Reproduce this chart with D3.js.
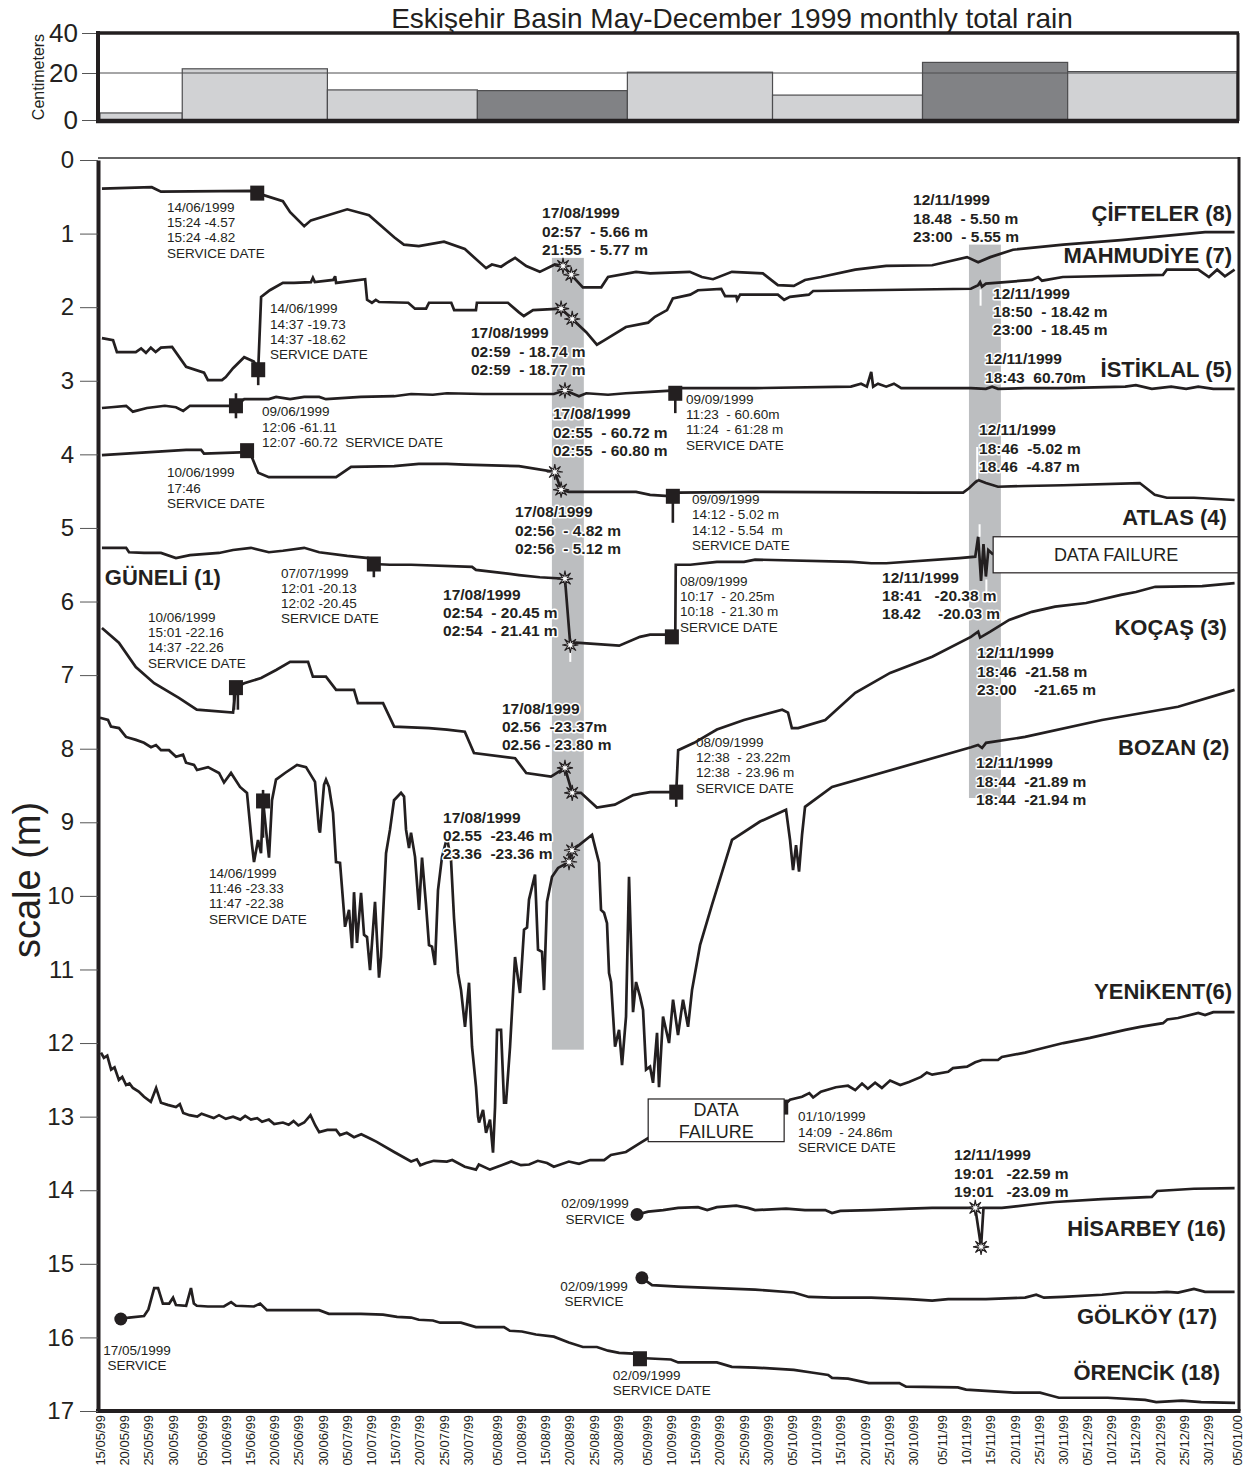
<!DOCTYPE html>
<html>
<head>
<meta charset="utf-8">
<script src="https://cdnjs.cloudflare.com/ajax/libs/d3/7.8.5/d3.min.js"></script>
<style>
  body { margin: 0; background: #fff; }
  text { font-family: "Liberation Sans", Arial, Helvetica, sans-serif; fill: #231f20; }
</style>
</head>
<body>
<svg width="1244" height="1467"></svg>
<script>
// monthly rain (cm), May..December 1999
const months = ['May', 'June', 'July', 'August', 'September', 'October', 'November', 'December'];
const monthBounds = ['15/05/99', '01/06/99', '01/07/99', '01/08/99', '01/09/99', '01/10/99', '01/11/99', '01/12/99', '05/01/00'];
const rain = [3.0, 22.1, 12.8, 12.5, 20.4, 10.6, 25.3, 20.7];
const quakeMonths = ['August', 'November'];

const dayLabels = ['15/05/99','20/05/99','25/05/99','30/05/99','05/06/99','10/06/99','15/06/99','20/06/99','25/06/99','30/06/99',
  '05/07/99','10/07/99','15/07/99','20/07/99','25/07/99','30/07/99','05/08/99','10/08/99','15/08/99','20/08/99','25/08/99','30/08/99',
  '05/09/99','10/09/99','15/09/99','20/09/99','25/09/99','30/09/99','05/10/99','10/10/99','15/10/99','20/10/99','25/10/99','30/10/99',
  '05/11/99','10/11/99','15/11/99','20/11/99','25/11/99','30/11/99','05/12/99','10/12/99','15/12/99','20/12/99','25/12/99','30/12/99','05/01/00'];
const depthTicks = d3.range(0, 18);
const rainTicks = [0, 20, 40];

// water level series: [days since 15/05/1999, depth m]
const cifteler = [[0.4,0.39],[10.7,0.37],[12.6,0.43],[31.2,0.42],[32.5,0.45],[37.8,0.56],[39.3,0.71],[42.2,0.90],[43.6,0.82],[51.1,0.67],[55.6,0.75],[60.8,1.05],[62.8,1.15],[65.9,1.17],[71.1,1.11],[75.4,1.21],[79.8,1.47],[81.0,1.42],[82.9,1.45],[84.0,1.40],[85.8,1.33],[88.1,1.44],[90.9,1.52],[94.0,1.42],[95.7,1.44],[97.4,1.56],[99.8,1.73],[103.6,1.73],[105.0,1.59],[110.8,1.52],[113.7,1.54],[121.9,1.52],[124.4,1.59],[126.7,1.62],[130.6,1.52],[137.0,1.54],[140.1,1.70],[143.4,1.71],[145.7,1.63],[149.0,1.59],[156.1,1.49],[162.5,1.44],[172.0,1.43],[179.2,1.32],[181.5,1.39],[184.0,1.32],[188.7,1.22],[199.1,1.15],[211.0,1.09],[228.4,0.98],[234.5,0.98]];
const mahmudiye = [[0.4,2.42],[2.7,2.45],[3.5,2.61],[7.4,2.61],[8.5,2.56],[9.5,2.62],[10.5,2.55],[11.5,2.61],[12.6,2.55],[14.9,2.54],[17.8,2.81],[21.5,2.89],[22.3,2.99],[25.2,2.99],[26.0,2.95],[27.5,2.83],[29.8,2.68],[31.8,2.74],[32.7,2.85],[33.3,1.86],[35.1,1.77],[37.8,1.67],[40.1,1.67],[43.6,1.66],[44.0,1.60],[44.4,1.66],[48.2,1.63],[48.6,1.58],[48.8,1.67],[52.5,1.64],[54.8,1.62],[55.2,1.90],[56.2,1.94],[57.0,1.90],[57.7,1.93],[63.7,1.94],[65.1,2.02],[67.4,2.02],[68.0,1.94],[72.6,1.94],[73.2,2.04],[77.7,2.04],[77.9,1.94],[84.3,1.94],[86.6,2.07],[87.6,2.12],[89.5,2.04],[95.3,2.02],[97.6,2.16],[100.5,2.34],[102.7,2.51],[104.2,2.45],[108.7,2.27],[113.3,2.21],[114.7,2.13],[117.2,2.04],[118.4,1.88],[122.0,1.83],[123.6,1.77],[128.4,1.75],[129.2,1.85],[131.5,1.85],[131.7,1.90],[132.3,1.83],[140.1,1.83],[141.4,1.90],[142.6,1.86],[146.5,1.83],[147.4,1.78],[180.0,1.75],[181.5,1.70],[181.9,1.66],[182.3,1.72],[183.1,1.68],[192.6,1.63],[193.9,1.59],[194.7,1.64],[199.0,1.59],[219.7,1.56],[220.5,1.49],[227.0,1.49],[229.2,1.59],[230.9,1.49],[232.5,1.58],[234.5,1.49]];
const istiklal = [[0.4,3.37],[2.3,3.36],[5.4,3.34],[6.8,3.42],[9.7,3.37],[13.4,3.34],[15.7,3.36],[17.2,3.41],[18.6,3.34],[26.7,3.34],[28.1,3.34],[29.8,3.25],[34.9,3.25],[36.4,3.22],[39.3,3.25],[42.2,3.22],[45.3,3.22],[46.7,3.25],[53.9,3.22],[60.8,3.21],[64.3,3.18],[68.8,3.19],[71.7,3.17],[79.2,3.18],[93.8,3.18],[96.1,3.13],[99.0,3.21],[100.5,3.17],[105.0,3.19],[108.7,3.17],[113.7,3.15],[118.9,3.13],[119.5,3.10],[135.4,3.10],[155.2,3.08],[157.3,3.04],[158.5,3.08],[159.4,2.88],[159.8,3.08],[160.8,3.04],[162.5,3.08],[164.1,3.04],[165.6,3.10],[180.0,3.10],[183.1,3.11],[184.4,3.08],[185.6,3.11],[191.2,3.10],[199.1,3.10],[211.9,3.08],[214.1,3.06],[217.4,3.11],[221.4,3.08],[224.5,3.11],[227.0,3.08],[230.1,3.11],[234.5,3.11]];
const atlas = [[0.4,4.01],[17.8,3.94],[20.9,3.94],[21.5,3.99],[30.4,3.97],[31.4,4.04],[32.7,4.25],[34.9,4.31],[48.8,4.31],[51.9,4.17],[60.8,4.16],[65.9,4.13],[71.7,4.13],[75.4,4.14],[86.6,4.16],[94.0,4.24],[95.3,4.48],[96.9,4.51],[110.8,4.51],[113.7,4.55],[118.4,4.57],[119.5,4.52],[135.4,4.51],[170.5,4.52],[178.4,4.52],[179.6,4.46],[180.9,4.38],[181.5,4.35],[183.1,4.39],[185.6,4.44],[191.2,4.43],[199.1,4.42],[214.9,4.39],[218.0,4.55],[220.5,4.59],[226.1,4.59],[234.5,4.62]];
const guneli = [[0.4,5.27],[5.4,5.27],[6.0,5.33],[9.1,5.34],[12.6,5.34],[15.7,5.41],[18.6,5.37],[24.6,5.34],[27.5,5.30],[31.2,5.27],[34.9,5.33],[37.8,5.31],[42.2,5.27],[45.3,5.33],[51.1,5.38],[55.5,5.41],[56.6,5.49],[59.9,5.50],[64.3,5.50],[76.9,5.53],[77.7,5.57],[86.6,5.64],[90.9,5.67],[96.1,5.69],[97.2,6.59],[98.4,6.56],[107.3,6.60],[111.6,6.48],[113.7,6.45],[117.2,6.45],[118.2,6.48],[118.9,6.48],[119.0,5.50],[122.0,5.50],[127.5,5.46],[133.1,5.46],[135.4,5.43],[155.4,5.46],[159.4,5.48],[162.5,5.48],[177.6,5.41],[180.9,5.39],[181.5,5.12],[182.1,5.72],[182.6,5.22],[183.1,5.66],[183.6,5.30],[184.6,5.36]];
const kocas = [[0.4,6.36],[3.9,6.56],[7.4,6.89],[11.2,7.11],[16.3,7.31],[20.0,7.47],[27.5,7.51],[28.1,7.17],[29.8,7.11],[33.3,7.04],[36.4,6.93],[39.3,6.82],[43.0,6.82],[44.0,7.02],[46.7,7.02],[48.8,7.20],[52.5,7.20],[53.3,7.38],[58.5,7.38],[60.8,7.70],[68.0,7.72],[71.7,7.74],[75.4,7.77],[77.3,8.06],[85.8,8.13],[88.1,8.33],[93.2,8.38],[96.1,8.26],[97.6,8.60],[99.4,8.60],[102.7,8.80],[106.4,8.76],[110.2,8.63],[113.7,8.59],[116.4,8.59],[119.1,8.59],[119.5,8.02],[122.8,7.92],[127.5,7.74],[133.1,7.61],[141.0,7.47],[142.2,7.51],[143.0,7.72],[144.3,7.72],[149.9,7.61],[156.1,7.24],[163.3,6.97],[172.0,6.75],[180.0,6.48],[181.5,6.41],[181.9,6.49],[184.0,6.41],[187.9,6.25],[192.6,6.14],[197.4,6.07],[203.8,6.02],[211.0,5.91],[214.1,5.87],[218.1,5.80],[227.8,5.79],[234.5,5.75]];
const bozan = [[0,7.58],[1.65,7.61],[2.27,7.70],[3.93,7.72],[5.37,7.84],[7.44,7.88],[9.09,7.92],[10.54,7.98],[11.57,7.95],[12.61,8.02],[14.26,8.02],[15.71,8.11],[17.16,8.08],[17.78,8.19],[19.43,8.22],[20.05,8.29],[22.32,8.25],[24.60,8.33],[25.63,8.46],[27.08,8.33],[28.94,8.52],[30.38,8.60],[31.42,9.31],[31.83,9.54],[32.66,9.24],[33.28,9.42],[33.69,8.70],[34.31,9.10],[34.93,9.48],[35.55,8.70],[36.38,8.42],[38.24,8.33],[40.72,8.22],[42.58,8.25],[44.44,8.45],[45.27,9.10],[45.47,9.14],[46.30,8.49],[46.71,8.42],[47.33,8.52],[48.16,8.87],[48.78,9.54],[49.61,9.55],[50.43,10.23],[50.64,10.42],[51.47,10.19],[52.09,10.71],[52.50,9.95],[53.12,10.64],[53.95,9.96],[54.57,10.53],[55.19,10.56],[55.81,11.01],[56.84,10.08],[57.67,11.11],[58.08,10.83],[59.12,9.42],[59.94,9.10],[60.77,8.70],[62.22,8.60],[62.84,8.65],[63.25,9.10],[63.87,9.35],[64.28,9.14],[65.11,9.47],[65.94,10.19],[66.56,9.48],[67.38,10.12],[68.00,10.67],[68.62,10.69],[69.24,10.94],[69.86,9.92],[70.69,9.47],[71.72,9.21],[72.55,9.51],[73.17,10.30],[74.00,11.05],[74.62,11.28],[75.44,11.78],[76.27,11.18],[76.89,12.05],[77.72,12.60],[78.13,13.00],[78.34,13.08],[79.17,12.91],[79.79,13.22],[80.61,13.04],[81.23,13.49],[81.65,12.87],[82.06,11.82],[82.89,11.82],[83.51,12.81],[83.92,12.81],[84.75,12.05],[85.78,10.83],[86.81,11.32],[87.64,10.46],[88.26,10.43],[88.67,10.05],[89.91,9.71],[90.53,10.73],[91.36,10.76],[91.77,11.28],[92.39,10.08],[93.43,9.74],[94.67,9.62],[96.94,9.54],[97.56,9.38],[99.01,9.31],[101.69,9.17],[103.14,9.55],[103.55,10.19],[104.18,10.23],[104.79,10.37],[105.21,11.05],[105.62,11.17],[106.45,12.05],[107.28,11.82],[107.90,12.30],[108.72,11.64],[109.34,9.74],[110.17,11.58],[110.79,11.17],[111.62,11.37],[112.24,11.55],[112.86,12.36],[113.68,12.32],[114.30,12.54],[115.13,11.86],[115.54,12.60],[116.37,11.64],[117.61,12.00],[118.44,11.41],[119.47,11.89],[120.50,11.41],[121.54,11.78],[122.36,11.28],[124.02,10.67],[126.50,10.12],[130.63,9.24],[136.42,8.99],[141.79,8.83],[142.62,9.24],[143.24,9.65],[143.86,9.31],[144.48,9.67],[145.10,9.17],[145.72,8.79],[151.30,8.52],[180.03,7.98],[181.48,7.95],[182.31,7.99],[183.13,7.92],[191.19,7.84],[207.11,7.61],[222.82,7.43],[234.5,7.20]];
const yenikent = [[0.2,12.13],[0.8,12.20],[1.5,12.17],[2.3,12.36],[3.0,12.33],[3.9,12.50],[4.6,12.46],[5.4,12.57],[6.1,12.55],[6.8,12.61],[8.0,12.66],[9.1,12.73],[10.5,12.80],[11.6,12.61],[12.6,12.81],[14.0,12.84],[15.7,12.87],[16.5,12.83],[17.2,12.95],[18.5,12.98],[20.1,13.00],[21.0,12.96],[22.3,12.99],[23.5,13.02],[24.6,12.98],[26.0,13.03],[27.5,13.00],[29.0,13.04],[30.0,12.99],[31.2,13.04],[32.5,13.02],[33.5,13.07],[34.9,13.04],[36.0,13.10],[37.8,13.08],[39.0,13.11],[40.0,13.06],[41.0,13.12],[42.2,13.08],[43.5,12.98],[44.5,13.12],[45.3,13.21],[47.0,13.18],[48.8,13.18],[49.6,13.25],[51.0,13.22],[52.5,13.28],[54.0,13.24],[55.6,13.29],[57.1,13.34],[60.8,13.48],[64.3,13.61],[65.5,13.58],[66.2,13.66],[67.4,13.63],[69.0,13.60],[71.7,13.61],[72.8,13.59],[75.4,13.68],[77.7,13.72],[78.3,13.65],[80.6,13.72],[83.0,13.66],[85.0,13.61],[87.0,13.66],[88.7,13.65],[90.5,13.60],[92.4,13.63],[93.8,13.68],[96.9,13.61],[99.0,13.64],[101.3,13.59],[104.2,13.59],[105.6,13.52],[108.7,13.48],[111.6,13.36],[113.3,13.29],[141.0,12.87],[142.6,12.77],[145.1,12.73],[146.6,12.68],[147.4,12.74],[149.0,12.66],[152.1,12.60],[154.6,12.58],[156.1,12.64],[157.5,12.55],[158.7,12.62],[160.2,12.54],[161.6,12.61],[163.3,12.51],[165.4,12.57],[167.2,12.53],[169.7,12.46],[170.9,12.40],[172.0,12.43],[175.3,12.39],[176.3,12.34],[179.2,12.32],[180.9,12.26],[182.3,12.23],[185.6,12.23],[186.4,12.19],[191.2,12.13],[193.5,12.09],[199.1,12.00],[204.6,11.93],[211.9,11.82],[215.0,11.78],[219.7,11.73],[220.6,11.68],[222.8,11.66],[227.0,11.59],[228.4,11.62],[230.1,11.58],[234.5,11.58]];
const hisarbey = [[111.0,14.33],[113.3,14.29],[116.4,14.27],[119.5,14.24],[123.6,14.23],[125.5,14.27],[127.5,14.23],[131.5,14.21],[133.9,14.24],[135.4,14.27],[141.8,14.25],[145.7,14.27],[149.9,14.27],[151.3,14.31],[153.0,14.28],[159.4,14.27],[167.2,14.25],[172.0,14.24],[180.9,14.24],[182.1,14.77],[182.6,14.24],[186.4,14.24],[187.9,14.23],[194.3,14.18],[197.4,14.16],[207.1,14.12],[217.4,14.09],[218.5,14.01],[226.1,13.98],[234.5,13.97]];
const golkoy = [[112.0,15.19],[114.1,15.29],[119.5,15.31],[127.5,15.33],[135.4,15.35],[143.4,15.39],[146.5,15.45],[151.3,15.46],[159.4,15.46],[167.2,15.48],[172.0,15.50],[175.3,15.48],[183.1,15.48],[191.2,15.46],[193.5,15.42],[195.1,15.46],[199.1,15.45],[207.1,15.42],[211.9,15.39],[218.1,15.39],[220.5,15.38],[222.8,15.39],[226.1,15.34],[228.4,15.38],[234.5,15.38]];
const orencik = [[4.3,15.75],[6.0,15.73],[9.1,15.71],[10.0,15.62],[11.2,15.33],[12.0,15.33],[13.0,15.54],[14.3,15.54],[15.1,15.46],[15.7,15.56],[17.8,15.57],[18.8,15.33],[19.4,15.54],[20.0,15.57],[22.3,15.58],[25.6,15.58],[27.1,15.52],[28.1,15.57],[31.8,15.58],[33.1,15.54],[34.5,15.63],[45.3,15.63],[47.3,15.68],[53.9,15.68],[58.5,15.69],[61.4,15.72],[64.3,15.73],[65.9,15.76],[68.8,15.77],[70.3,15.80],[74.6,15.80],[77.7,15.86],[83.5,15.86],[84.7,15.91],[87.2,15.92],[90.1,15.96],[93.8,15.99],[96.9,16.07],[99.8,16.13],[102.7,16.13],[105.0,16.18],[107.3,16.21],[110.2,16.22],[111.6,16.28],[118.0,16.30],[119.5,16.34],[127.5,16.34],[130.6,16.40],[135.4,16.41],[143.4,16.44],[147.4,16.48],[150.5,16.51],[151.3,16.55],[154.6,16.56],[158.9,16.62],[165.2,16.62],[166.6,16.67],[177.3,16.68],[179.0,16.71],[188.9,16.75],[194.3,16.75],[195.9,16.78],[198.2,16.82],[208.3,16.82],[216.0,16.85],[218.3,16.88],[223.6,16.86],[227.6,16.88],[234.6,16.89]];

const stations = [
  { name: 'ÇİFTELER (8)', data: cifteler, d: 234.0, z: 0.72, anchor: 'end' },
  { name: 'MAHMUDİYE (7)', data: mahmudiye, d: 234.0, z: 1.29, anchor: 'end' },
  { name: 'İSTİKLAL (5)', data: istiklal, d: 234.0, z: 2.84, anchor: 'end' },
  { name: 'ATLAS (4)', data: atlas, d: 232.9, z: 4.85, anchor: 'end' },
  { name: 'GÜNELİ (1)', data: guneli, d: 1.0, z: 5.67, anchor: 'start' },
  { name: 'KOÇAŞ (3)', data: kocas, d: 232.9, z: 6.35, anchor: 'end' },
  { name: 'BOZAN (2)', data: bozan, d: 233.4, z: 7.98, anchor: 'end' },
  { name: 'YENİKENT(6)', data: yenikent, d: 234.0, z: 11.30, anchor: 'end' },
  { name: 'HİSARBEY (16)', data: hisarbey, d: 232.7, z: 14.52, anchor: 'end' },
  { name: 'GÖLKÖY (17)', data: golkoy, d: 230.9, z: 15.71, anchor: 'end' },
  { name: 'ÖRENCİK (18)', data: orencik, d: 231.5, z: 16.48, anchor: 'end' }
];

// service visits (square), new loggers (dot), earthquake readings (star)
const serviceDates = [[32.5,0.45],[32.7,2.85],[28.1,3.34],[118.9,3.17],[30.4,3.95],[118.4,4.57],[56.6,5.49],[118.2,6.48],[28.1,7.17],[119.1,8.59],[33.7,8.71],[140.8,12.87],[111.6,16.29]];
const serviceTicks = [[32.7,2.85,3.06],[28.1,3.17,3.51],[118.9,3.17,3.44],[118.4,4.57,4.93],[56.6,5.49,5.67],[27.7,7.17,7.47],[28.5,7.17,7.47],[119.1,8.59,8.79],[33.7,8.56,9.21]];
const installs = [[111.0,14.33],[112.0,15.19],[4.3,15.75]];
const quakeReadings = [[95.7,1.44],[97.4,1.56],[95.3,2.02],[97.6,2.16],[96.1,3.13],[94.0,4.24],[95.3,4.48],[96.1,5.69],[97.2,6.59],[96.1,8.26],[97.6,8.60],[96.94,9.54],[97.56,9.38],[180.9,14.24],[182.1,14.77]];
const glitches = [[182.0,1.76,1.98],[181.3,4.34,3.90],[181.8,5.12,4.95],[183.2,5.70,5.90],[97.2,6.62,6.82]];

const quakes = [
  { date: '17/08/1999', from: 93.4, to: 100.0, top: 1.33, bottom: 12.09 },
  { date: '12/11/1999', from: 179.6, to: 186.2, top: 1.15, bottom: 8.67 }
];
const failures = [
  { from: 184.6, to: 235.6, top: 5.12, bottom: 5.61, lines: ['DATA FAILURE'] },
  { from: 113.3, to: 141.4, top: 12.76, bottom: 13.34, lines: ['DATA', 'FAILURE'] }
];

const notes = [
  { d: 13.85, z: 0.64, lines: ['14/06/1999', '15:24 -4.57', '15:24 -4.82', 'SERVICE DATE'] },
  { d: 35.14, z: 2.02, lines: ['14/06/1999', '14:37 -19.73', '14:37 -18.62', 'SERVICE DATE'] },
  { d: 33.48, z: 3.42, lines: ['09/06/1999', '12:06 -61.11', '12:07 -60.72  SERVICE DATE'] },
  { d: 13.85, z: 4.25, lines: ['10/06/1999', '17:46', 'SERVICE DATE'] },
  { d: 37.41, z: 5.61, lines: ['07/07/1999', '12:01 -20.13', '12:02 -20.45', 'SERVICE DATE'] },
  { d: 9.92, z: 6.21, lines: ['10/06/1999', '15:01 -22.16', '14:37 -22.26', 'SERVICE DATE'] },
  { d: 22.53, z: 9.69, lines: ['14/06/1999', '11:46 -23.33', '11:47 -22.38', 'SERVICE DATE'] },
  { d: 121.12, z: 3.25, lines: ['09/09/1999', '11:23  - 60.60m', '11:24  - 61:28 m', 'SERVICE DATE'] },
  { d: 122.36, z: 4.61, lines: ['09/09/1999', '14:12 - 5.02 m', '14:12 - 5.54  m', 'SERVICE DATE'] },
  { d: 119.88, z: 5.72, lines: ['08/09/1999', '10:17  - 20.25m', '10:18  - 21.30 m', 'SERVICE DATE'] },
  { d: 123.19, z: 7.91, lines: ['08/09/1999', '12:38  - 23.22m', '12:38  - 23.96 m', 'SERVICE DATE'] },
  { d: 144.27, z: 13.0, lines: ['01/10/1999', '14:09  - 24.86m', 'SERVICE DATE'] },
  { d: 102.3, z: 14.18, lines: ['02/09/1999', 'SERVICE'], mid: true },
  { d: 102.1, z: 15.30, lines: ['02/09/1999', 'SERVICE'], mid: true },
  { d: 7.65, z: 16.17, lines: ['17/05/1999', 'SERVICE'], mid: true },
  { d: 106.0, z: 16.51, lines: ['02/09/1999', 'SERVICE DATE'] }
];
const quakeNotes = [
  { d: 91.36, z: 0.72, lines: ['17/08/1999', '02:57  - 5.66 m', '21:55  - 5.77 m'] },
  { d: 76.68, z: 2.35, lines: ['17/08/1999', '02:59  - 18.74 m', '02:59  - 18.77 m'] },
  { d: 93.63, z: 3.45, lines: ['17/08/1999', '02:55  - 60.72 m', '02:55  - 60.80 m'] },
  { d: 85.78, z: 4.78, lines: ['17/08/1999', '02:56  - 4.82 m', '02:56  - 5.12 m'] },
  { d: 70.90, z: 5.90, lines: ['17/08/1999', '02:54  - 20.45 m', '02:54  - 21.41 m'] },
  { d: 83.09, z: 7.45, lines: ['17/08/1999', '02.56  -23.37m', '02.56 - 23.80 m'] },
  { d: 70.90, z: 8.93, lines: ['17/08/1999', '02.55  -23.46 m', '23.36  -23.36 m'] },
  { d: 168.05, z: 0.54, lines: ['12/11/1999', '18.48  - 5.50 m', '23:00  - 5.55 m'] },
  { d: 184.58, z: 1.81, lines: ['12/11/1999', '18:50  - 18.42 m', '23:00  - 18.45 m'] },
  { d: 182.93, z: 2.70, lines: ['12/11/1999', '18:43  60.70m'] },
  { d: 181.69, z: 3.67, lines: ['12/11/1999', '18:46  -5.02 m', '18.46  -4.87 m'] },
  { d: 161.64, z: 5.67, lines: ['12/11/1999', '18:41   -20.38 m', '18.42    -20.03 m'] },
  { d: 181.27, z: 6.70, lines: ['12/11/1999', '18:46  -21.58 m', '23:00    -21.65 m'] },
  { d: 181.07, z: 8.19, lines: ['12/11/1999', '18:44  -21.89 m', '18:44  -21.94 m'] },
  { d: 176.52, z: 13.52, lines: ['12/11/1999', '19:01   -22.59 m', '19:01   -23.09 m'] }
];

const svg = d3.select('svg');
const parseDay = d3.utcParse('%d/%m/%y');
const t0 = parseDay('15/05/99');
const toDate = d => new Date(+t0 + d * 864e5);

const left = 98, right = 1239;
const x = d3.scaleUtc().domain([t0, parseDay('05/01/00')]).range([100, 1237]);
const X = d => x(toDate(d));
const y = d3.scaleLinear().domain([0, 17]).range([160, 1411]);
// the rain axis of the original is drawn a bit uneven, so 3 stops
const ry = d3.scaleLinear().domain([0, 20, 40]).range([120, 73, 33]);

// ---------- rain chart ----------
svg.append('text')
  .attr('x', 732).attr('y', 28)
  .attr('text-anchor', 'middle')
  .style('font-size', '28px')
  .text('Eskişehir Basin May-December 1999 monthly total rain');

const rainG = svg.append('g');
rainG.selectAll('rect')
  .data(months)
  .join('rect')
  .attr('x', (m, i) => x(parseDay(monthBounds[i])))
  .attr('width', (m, i) => x(parseDay(monthBounds[i + 1])) - x(parseDay(monthBounds[i])))
  .attr('y', (m, i) => ry(rain[i]))
  .attr('height', (m, i) => ry(0) - ry(rain[i]))
  .attr('fill', m => quakeMonths.includes(m) ? '#818285' : '#d1d2d4')
  .attr('stroke', '#4d4d4f')
  .attr('stroke-width', 1.2);

rainG.append('line')
  .attr('x1', left).attr('x2', right - 1)
  .attr('y1', ry(20)).attr('y2', ry(20))
  .attr('stroke', '#4d4d4f').attr('stroke-width', 1);

const rainAxis = rainG.append('g')
  .attr('transform', `translate(${left},0)`)
  .call(d3.axisLeft(ry).tickValues(rainTicks).tickSize(16).tickSizeOuter(0).tickPadding(4));
rainAxis.select('.domain').remove();
rainAxis.selectAll('line').attr('stroke', '#555');
rainAxis.selectAll('text').style('font-size', '26px').attr('fill', '#231f20').style('font-family', '"Liberation Sans", Arial, sans-serif');

rainG.append('line').attr('x1', left - 2).attr('x2', right).attr('y1', ry(40)).attr('y2', ry(40)).attr('stroke', '#231f20').attr('stroke-width', 3.5);
rainG.append('line').attr('x1', left - 2).attr('x2', right).attr('y1', ry(0) + 1).attr('y2', ry(0) + 1).attr('stroke', '#231f20').attr('stroke-width', 4.5);
rainG.append('line').attr('x1', left).attr('x2', left).attr('y1', ry(40) - 2).attr('y2', ry(0) + 3).attr('stroke', '#231f20').attr('stroke-width', 4);
rainG.append('line').attr('x1', right - 1).attr('x2', right - 1).attr('y1', ry(40)).attr('y2', ry(0) + 1).attr('stroke', '#231f20').attr('stroke-width', 3);

svg.append('text')
  .attr('transform', `translate(44,${ry(20) + 4}) rotate(-90)`)
  .attr('text-anchor', 'middle')
  .style('font-size', '16px')
  .text('Centimeters');

// ---------- water level chart ----------
svg.append('defs').append('clipPath').attr('id', 'plot')
  .append('rect').attr('x', left).attr('y', 158).attr('width', right - left).attr('height', 1411 - 158);

const bandG = svg.append('g');
bandG.selectAll('rect')
  .data(quakes)
  .join('rect')
  .attr('x', q => X(q.from))
  .attr('width', q => X(q.to) - X(q.from))
  .attr('y', q => y(q.top))
  .attr('height', q => y(q.bottom) - y(q.top))
  .attr('fill', '#bcbec0');

const line = d3.line().x(d => X(d[0])).y(d => y(d[1]));
const lineG = svg.append('g').attr('clip-path', 'url(#plot)');
lineG.selectAll('path')
  .data(stations)
  .join('path')
  .attr('d', s => line(s.data))
  .attr('fill', 'none')
  .attr('stroke', '#231f20')
  .attr('stroke-width', 2.7)
  .attr('stroke-linejoin', 'miter')
  .attr('stroke-miterlimit', 3);

lineG.selectAll('line.tick')
  .data(serviceTicks)
  .join('line')
  .attr('class', 'tick')
  .attr('x1', d => X(d[0])).attr('x2', d => X(d[0]))
  .attr('y1', d => y(d[1])).attr('y2', d => y(d[2]))
  .attr('stroke', '#231f20').attr('stroke-width', 2.6);

lineG.selectAll('line.glitch')
  .data(glitches)
  .join('line')
  .attr('class', 'glitch')
  .attr('x1', d => X(d[0])).attr('x2', d => X(d[0]))
  .attr('y1', d => y(d[1])).attr('y2', d => y(d[2]))
  .attr('stroke', '#fff').attr('stroke-width', 2);

svg.append('g').selectAll('rect')
  .data(serviceDates)
  .join('rect')
  .attr('x', d => X(d[0]) - 7)
  .attr('y', d => y(d[1]) - 7.5)
  .attr('width', 14).attr('height', 15)
  .attr('fill', '#231f20');

svg.append('g').selectAll('circle')
  .data(installs)
  .join('circle')
  .attr('cx', d => X(d[0])).attr('cy', d => y(d[1]))
  .attr('r', 6.5)
  .attr('fill', '#231f20');

const star = d3.lineRadial().curve(d3.curveLinearClosed)(d3.range(16).map(i => [i * Math.PI / 8, i % 2 ? 2.6 : 8]));
svg.append('g').selectAll('path')
  .data(quakeReadings)
  .join('path')
  .attr('transform', d => `translate(${X(d[0])},${y(d[1])})`)
  .attr('d', star)
  .attr('fill', '#fff')
  .attr('stroke', '#231f20')
  .attr('stroke-width', 1.1);

const failG = svg.append('g');
failG.selectAll('rect')
  .data(failures)
  .join('rect')
  .attr('x', f => X(f.from))
  .attr('width', f => Math.min(X(f.to), right) - X(f.from))
  .attr('y', f => y(f.top))
  .attr('height', f => y(f.bottom) - y(f.top))
  .attr('fill', '#fff')
  .attr('stroke', '#231f20')
  .attr('stroke-width', 1.2);
failures.forEach(f => {
  const cx = (X(f.from) + Math.min(X(f.to), right)) / 2;
  const cy = (y(f.top) + y(f.bottom)) / 2;
  f.lines.forEach((t, i) => {
    failG.append('text')
      .attr('x', cx)
      .attr('y', cy + (i - (f.lines.length - 1) / 2) * 22)
      .attr('dy', '0.35em')
      .attr('text-anchor', 'middle')
      .style('font-size', '18px')
      .text(t);
  });
});

// frame
svg.append('line').attr('x1', left).attr('x2', right).attr('y1', 158).attr('y2', 158).attr('stroke', '#333').attr('stroke-width', 1.5);
svg.append('line').attr('x1', right).attr('x2', right).attr('y1', 157).attr('y2', 1411).attr('stroke', '#231f20').attr('stroke-width', 3);
svg.append('line').attr('x1', left - 2).attr('x2', right + 1.5).attr('y1', 1411).attr('y2', 1411).attr('stroke', '#231f20').attr('stroke-width', 4);

const yAxis = svg.append('g')
  .attr('transform', `translate(${left},0)`)
  .call(d3.axisLeft(y).tickValues(depthTicks).tickSize(18).tickSizeOuter(0).tickPadding(6));
yAxis.select('.domain').attr('stroke', '#231f20').attr('stroke-width', 4);
yAxis.selectAll('line').attr('stroke', '#555');
yAxis.selectAll('text').style('font-size', '24px').attr('fill', '#231f20').style('font-family', '"Liberation Sans", Arial, sans-serif');

svg.append('text')
  .attr('transform', 'translate(40,880) rotate(-90)')
  .attr('text-anchor', 'middle')
  .style('font-size', '38px')
  .text('scale (m)');

const xAxis = svg.append('g')
  .attr('transform', 'translate(0,1411)')
  .call(d3.axisBottom(x).tickValues(dayLabels.map(parseDay)).tickSize(0).tickFormat(d3.utcFormat('%d/%m/%y')));
xAxis.select('.domain').remove();
xAxis.selectAll('text')
  .attr('transform', 'rotate(-90)')
  .attr('x', -4).attr('y', 0).attr('dy', '0.35em')
  .attr('text-anchor', 'end')
  .attr('fill', '#231f20')
  .style('font-size', '13px')
  .style('font-family', '"Liberation Sans", Arial, sans-serif');

// notes
const noteG = svg.append('g');
notes.forEach(n => {
  n.lines.forEach((t, i) => {
    noteG.append('text')
      .attr('x', X(n.d)).attr('y', y(n.z) + i * 15.3)
      .attr('dy', '0.35em')
      .attr('text-anchor', n.mid ? 'middle' : 'start')
      .style('font-size', '13.5px')
      .style('white-space', 'pre')
      .text(t);
  });
});
quakeNotes.forEach(n => {
  n.lines.forEach((t, i) => {
    noteG.append('text')
      .attr('x', X(n.d)).attr('y', y(n.z) + i * 18.4)
      .attr('dy', '0.35em')
      .style('font-size', '15.5px')
      .style('font-weight', 'bold')
      .style('white-space', 'pre')
      .style('paint-order', 'stroke')
      .attr('stroke', '#fff').attr('stroke-width', 3).attr('stroke-linejoin', 'round')
      .text(t);
  });
});

svg.append('g').selectAll('text')
  .data(stations)
  .join('text')
  .attr('x', s => X(s.d)).attr('y', s => y(s.z))
  .attr('dy', '0.35em')
  .attr('text-anchor', s => s.anchor)
  .style('font-size', '22px')
  .style('font-weight', 'bold')
  .text(s => s.name);
</script>
</body>
</html>
